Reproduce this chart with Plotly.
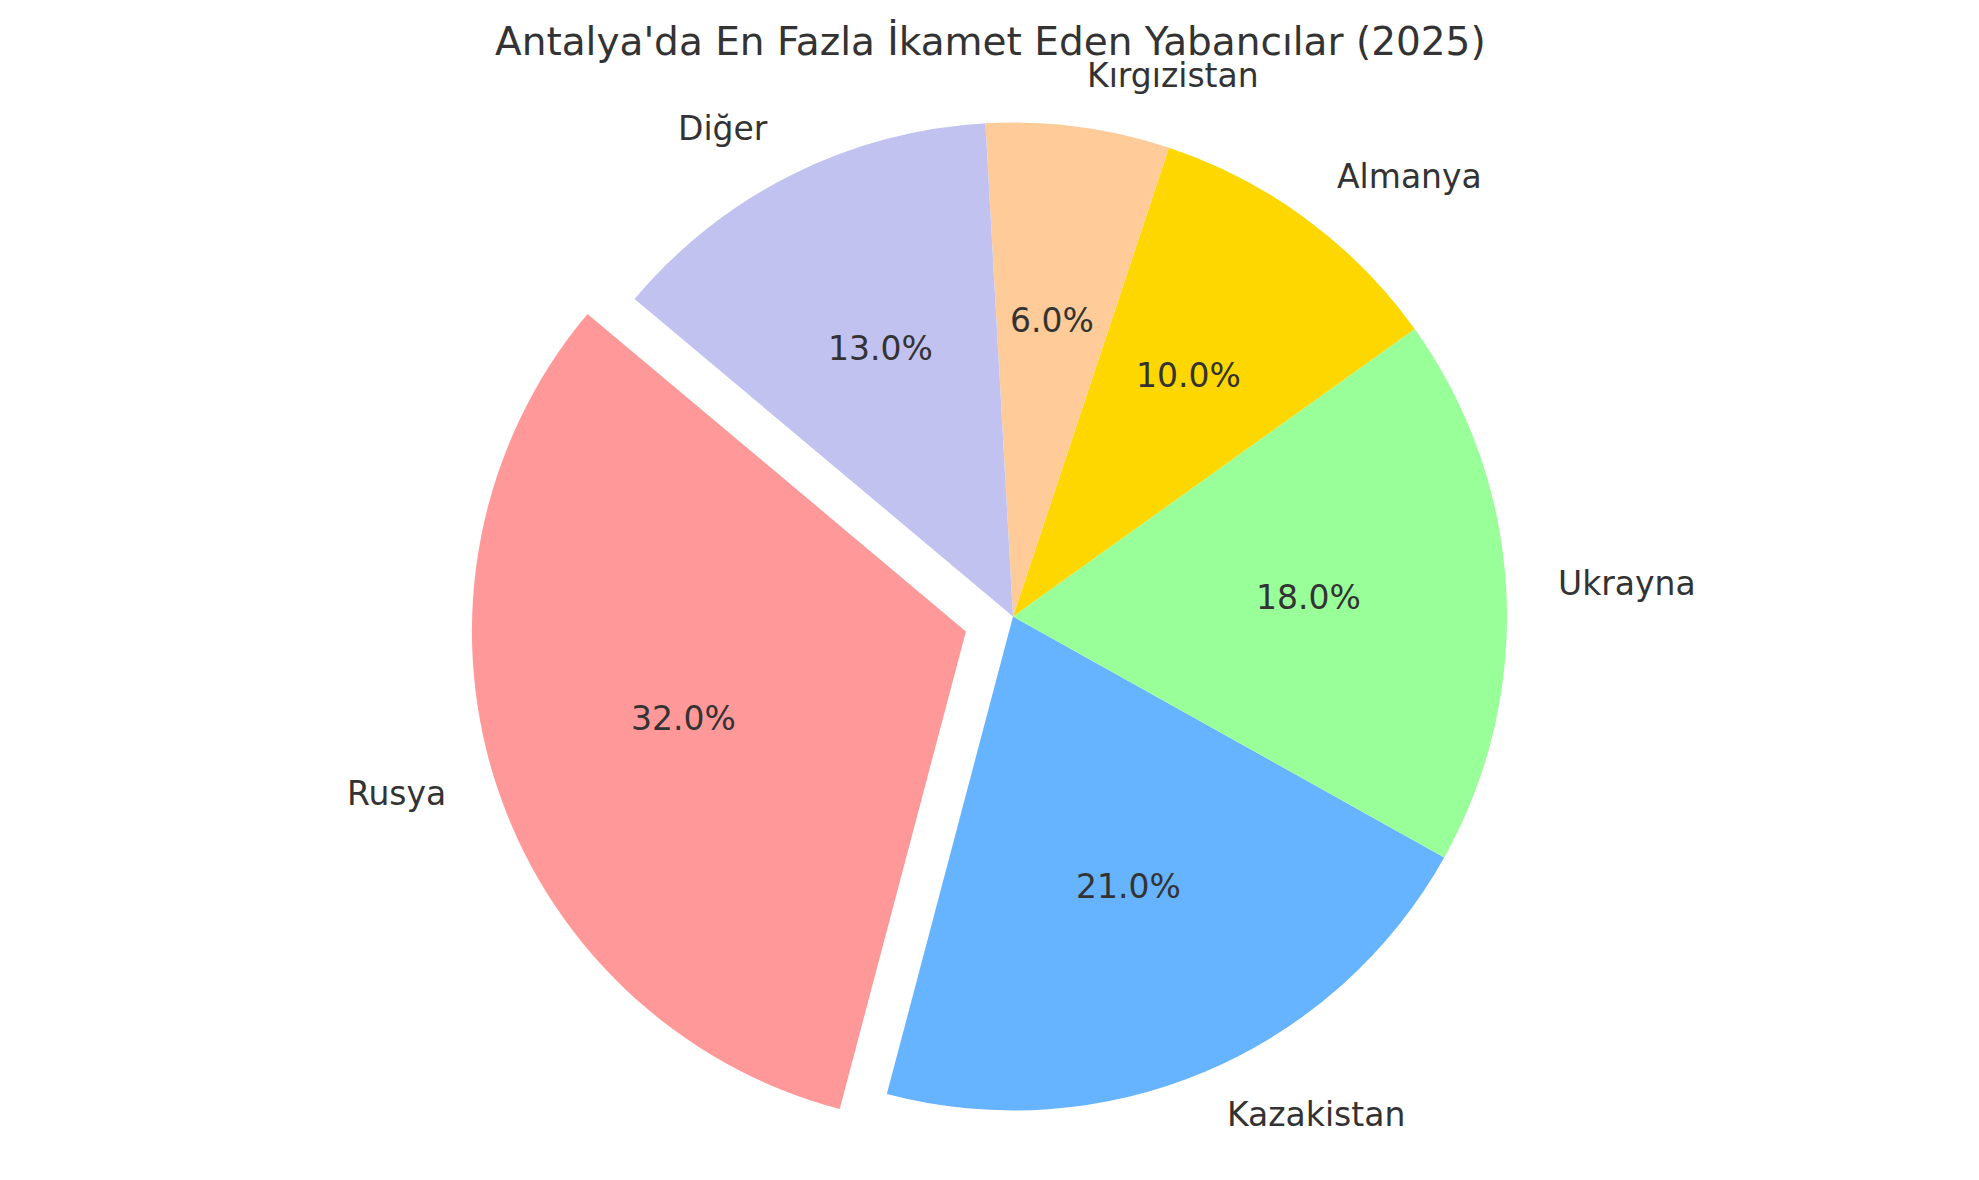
import math
import plotly.graph_objects as go

labels = ["Rusya", "Kazakistan", "Ukrayna", "Almanya", "Kırgızistan", "Diğer"]
values = [32, 21, 18, 10, 6, 13]
colors = ["#ff9999", "#66b3ff", "#99ff99", "#ffd700", "#ffcc99", "#c2c2f0"]
explode = [0.1, 0, 0, 0, 0, 0]
title = "Antalya'da En Fazla İkamet Eden Yabancılar (2025)"

W, H = 1979, 1180
OFF = 8.0  # page body margin compensation
TXT_DY = 2.5  # baseline correction for text centring
START = 140.0  # degrees, counter-clockwise from +x (matplotlib startangle)
CX, CY = 1013.0 - OFF, 616.5 - OFF  # pie centre in pixels (from top-left)
R = 494.0
maxpull = max(explode)
half = R * (1 + maxpull)

FONT = "DejaVu Sans"
TXT = "#333333"

total = sum(values)
# plotly's counter-clockwise pie: rotation marks the end of the first slice
rot = 90 - (START + 360 * values[0] / total)

fig = go.Figure()
fig.add_trace(go.Pie(
    labels=labels, values=values, sort=False, direction="counterclockwise",
    rotation=rot, pull=explode,
    marker=dict(colors=colors, line=dict(width=0)),
    textinfo="none", hoverinfo="label+percent", showlegend=False,
    domain=dict(x=[(CX - half) / W, (CX + half) / W],
                y=[1 - (CY + half) / H, 1 - (CY - half) / H]),
))

ann = []
a0 = START
for lab, v, ex in zip(labels, values, explode):
    frac = v / total
    a1 = a0 + 360 * frac
    mid = math.radians((a0 + a1) / 2)
    c, s = math.cos(mid), math.sin(mid)
    ox, oy = CX + ex * R * c, CY - ex * R * s
    lx, ly = ox + 1.1 * R * c, oy - 1.1 * R * s - TXT_DY
    ann.append(dict(x=lx / W, y=1 - ly / H, xref="paper", yref="paper",
                    text=lab, showarrow=False,
                    xanchor="left" if c > 0 else "right", yanchor="middle",
                    font=dict(family=FONT, size=33, color=TXT)))
    px, py = ox + 0.6 * R * c, oy - 0.6 * R * s - TXT_DY
    ann.append(dict(x=px / W, y=1 - py / H, xref="paper", yref="paper",
                    text=f"{100 * frac:.1f}%", showarrow=False,
                    xanchor="center", yanchor="middle",
                    font=dict(family=FONT, size=33, color=TXT)))
    a0 = a1

ann.append(dict(x=(990 - OFF) / W, y=1 - (42 - OFF) / H, xref="paper", yref="paper",
                text=title, showarrow=False, xanchor="center", yanchor="middle",
                font=dict(family=FONT, size=39, color=TXT)))

fig.update_layout(
    width=W, height=H, margin=dict(l=0, r=0, t=0, b=0),
    paper_bgcolor="white", plot_bgcolor="white",
    annotations=ann,
)
fig.write_html("out.html")
